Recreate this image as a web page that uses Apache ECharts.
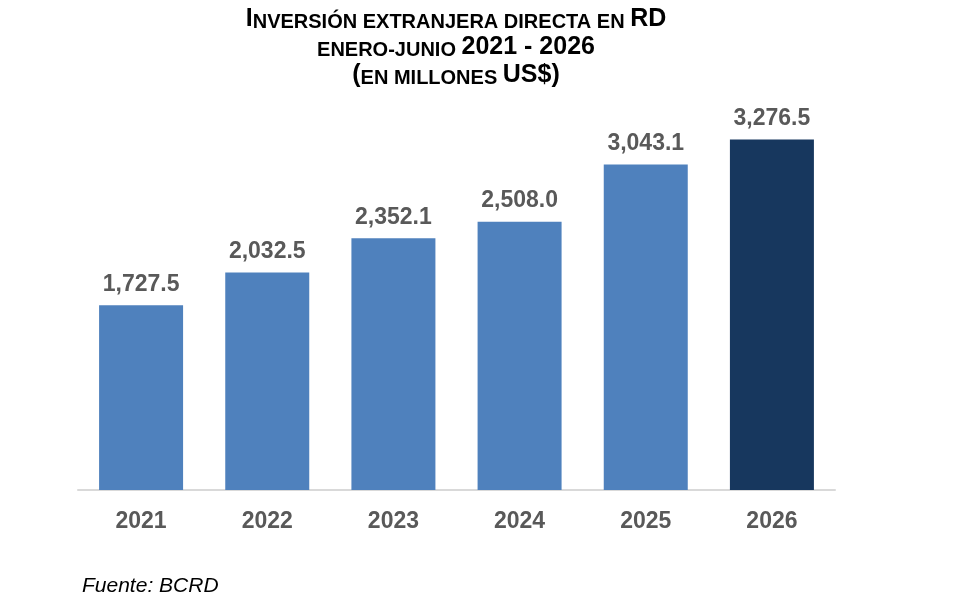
<!DOCTYPE html>
<html>
<head>
<meta charset="utf-8">
<script src="https://cdn.jsdelivr.net/npm/echarts@6/dist/echarts.min.js"></script>
<style>
html,body{margin:0;padding:0;background:#fff;}
#main{width:955px;height:600px;}
</style>
</head>
<body>
<div id="main"></div>
<script>
var categories = ['2021', '2022', '2023', '2024', '2025', '2026'];
var values = [1727.5, 2032.5, 2352.1, 2508.0, 3043.1, 3276.5];
var sourceText = 'Fuente: BCRD';

var FONT = 'Arial, "Liberation Sans", sans-serif';
var chart = echarts.init(document.getElementById('main'));

var rich = {
  L: {fontSize: 25, fontWeight: 'bold', fontFamily: FONT, color: '#404040', lineHeight: 28, verticalAlign: 'bottom'},
  S: {fontSize: 20, fontWeight: 'bold', fontFamily: FONT, color: '#404040', lineHeight: 28, verticalAlign: 'bottom'}
};
function titleLine(text, y) {
  return {
    type: 'text', x: 456, y: y,
    style: {text: text, rich: rich, align: 'center', verticalAlign: 'top'}
  };
}

function fmt(v) {
  return v.toLocaleString('en-US', {minimumFractionDigits: 1, maximumFractionDigits: 1});
}

var barData = values.map(function (v, i) {
  return {value: v, itemStyle: {color: i === values.length - 1 ? '#17375E' : '#4F81BD'}};
});

chart.setOption({
  backgroundColor: '#ffffff',
  animation: false,
  grid: {left: 78, right: 120, top: 115.5, bottom: 110},
  xAxis: {
    type: 'category',
    data: categories,
    axisLine: {show: true, lineStyle: {color: '#d9d9d9', width: 2}},
    axisTick: {show: false},
    axisLabel: {color: '#595959', fontSize: 23, fontWeight: 'bold', fontFamily: FONT, margin: 20}
  },
  yAxis: {
    type: 'value', min: 0, max: 3500, show: false,
    splitLine: {show: false}
  },
  series: [{
    type: 'bar',
    data: barData,
    barWidth: 84,
    label: {
      show: true, position: 'top', distance: 9,
      color: '#595959', fontSize: 23, fontWeight: 'bold', fontFamily: FONT,
      formatter: function (p) { return fmt(p.value); }
    }
  }],
  graphic: [
    titleLine('{L|I}{S|NVERSIÓN EXTRANJERA DIRECTA EN }{L|RD}', 4),
    titleLine('{S|ENERO-JUNIO }{L|2021 - 2026}', 32),
    titleLine('{L|(}{S|EN MILLONES }{L|US$)}', 60),
    {
      type: 'text', x: 82, y: 576,
      style: {text: sourceText, fontSize: 21, fontStyle: 'italic', fontFamily: FONT, fill: '#000000', verticalAlign: 'top'}
    }
  ]
});
</script>
</body>
</html>
